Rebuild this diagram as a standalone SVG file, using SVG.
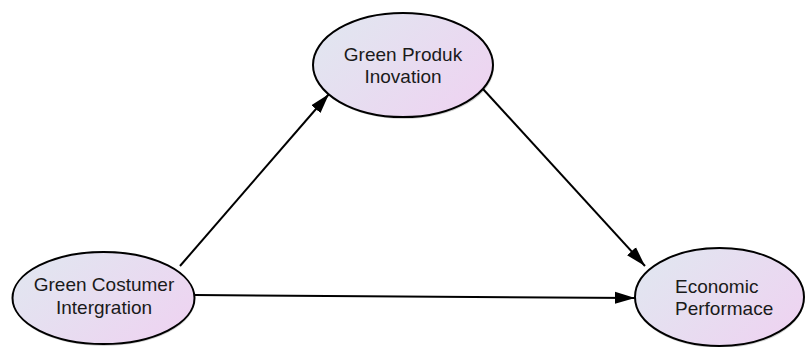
<svg xmlns="http://www.w3.org/2000/svg" width="805" height="347" viewBox="0 0 805 347">
<style>
.node{stroke:#000;stroke-width:2;fill:url(#g)}
.shadow{fill:#000;opacity:0.18}
.lbl{font-family:"Liberation Sans",Arial,sans-serif;font-size:19px;fill:#1a1a1a}
.edge{stroke:#000;stroke-width:2;fill:none;marker-end:url(#ah)}
</style>
<defs>
<linearGradient id="g" x1="0" y1="0.2" x2="1" y2="0.8">
<stop offset="0" stop-color="#e1e6f0"/>
<stop offset="1" stop-color="#eed3f1"/>
</linearGradient>
<marker id="ah" markerUnits="userSpaceOnUse" markerWidth="20" markerHeight="14" refX="20" refY="7" orient="auto" viewBox="0 0 20 14">
<path d="M0,1 L20,7 L0,13 z" fill="#000"/>
</marker>
</defs>
<rect width="805" height="347" fill="#fff"/>
<g id="connectors">
<line class="edge" x1="180" y1="266" x2="329" y2="94"/>
<line class="edge" x1="483" y1="89" x2="645" y2="266"/>
<line class="edge" x1="195" y1="295" x2="635" y2="298"/>
</g>
<g id="gpi">
<ellipse class="shadow" cx="404" cy="67" rx="90" ry="52"/>
<ellipse class="node" cx="403" cy="65" rx="90" ry="52"/>
<text class="lbl" x="403" y="61" text-anchor="middle">Green Produk</text>
<text class="lbl" x="403" y="83" text-anchor="middle">Inovation</text>
</g>
<g id="gci">
<ellipse class="shadow" cx="104" cy="300" rx="91" ry="46"/>
<ellipse class="node" cx="103.5" cy="298" rx="91" ry="46"/>
<text class="lbl" x="104" y="291" text-anchor="middle">Green Costumer</text>
<text class="lbl" x="104" y="314" text-anchor="middle">Intergration</text>
</g>
<g id="ep">
<ellipse class="shadow" cx="720" cy="299" rx="84.5" ry="49"/>
<ellipse class="node" cx="719.5" cy="297" rx="84.5" ry="49"/>
<text class="lbl" x="675" y="293">Economic</text>
<text class="lbl" x="675" y="315">Performace</text>
</g>
</svg>
